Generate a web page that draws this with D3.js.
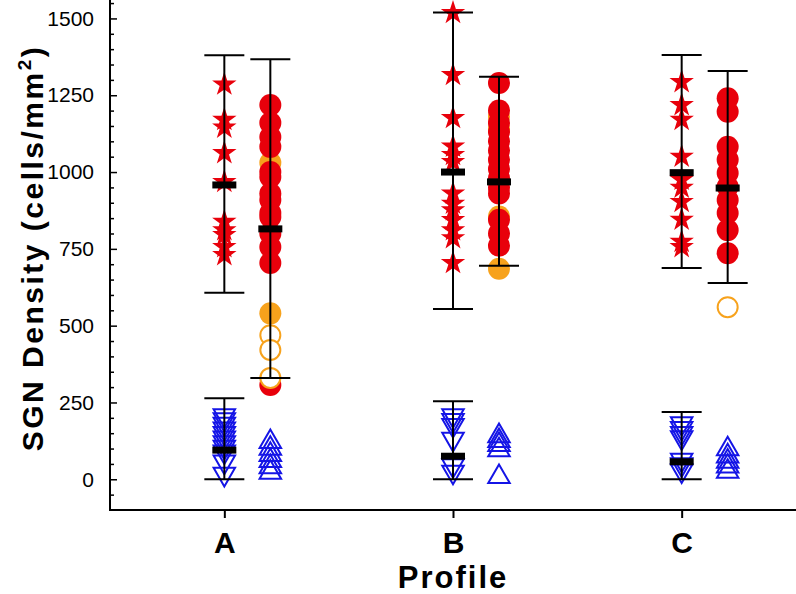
<!DOCTYPE html>
<html>
<head>
<meta charset="utf-8">
<script src="https://cdn.jsdelivr.net/npm/d3@7"></script>
<style>
  html, body { margin: 0; padding: 0; background: #fff; }
  svg { display: block; font-family: "Liberation Sans", Arial, sans-serif; }
</style>
</head>
<body>
<svg id="chart" width="796" height="594"></svg>
<script>
// ---------------- DATA ----------------
const profiles = ["A", "B", "C"];
const yTicks = [0, 250, 500, 750, 1000, 1250, 1500];

// red stars
const starValues = [
  [1285, 1170, 1145, 1062, 968, 838, 811, 795, 756, 730],
  [1518, 1316, 1176, 1083, 1056, 1033, 930, 897, 876, 844, 811, 785, 704],
  [1293, 1218, 1170, 1050, 975, 949, 903, 845, 773, 756]
];
const starMean = [958, 1000, 998];
const starLow  = [607, 554, 688];
const starHigh = [1380, 1519, 1381];

// orange filled circles (drawn first)
const circleOrange = [
  [1030, 540],
  [1180, 1140, 855, 685],
  []
];
// red filled circles
const circleRed = [
  [1218, 1160, 1114, 1082, 1000, 984, 930, 909, 867, 854, 800, 756, 704, 307],
  [1290, 1200, 1160, 1130, 1100, 1070, 1040, 1010, 980, 950, 930, 845, 800, 760],
  [1240, 1196, 1082, 1040, 997, 952, 909, 867, 811, 736]
];
// orange hollow circles
const circleHollow = [
  [469, 421, 330],
  [],
  [560]
];
const circleMean = [815, 968, 948];
const circleLow  = [330, 695, 639];
const circleHigh = [1367, 1310, 1329];

// blue down-triangles
const downValues = [
  [208, 195, 180, 165, 150, 135, 120, 105, 90, 57, 17],
  [208, 192, 176, 131, 45, 24],
  [182, 166, 150, 136, 63, 48, 28]
];
const downMean = [95, 75, 57];
const downLow  = [0, 0, 0];
const downHigh = [264, 254, 219];

// blue up-triangles
const upValues = [
  [122, 100, 80, 60, 40, 22],
  [141, 125, 112, 95, 8],
  [98, 75, 58, 42, 25]
];

// ---------------- CHART ----------------
const W = 796, H = 594;
const left = 110, bottom = 510;
const svg = d3.select("#chart");

const x = d3.scalePoint().domain(profiles).range([left, W]).padding(0.5);
const y = d3.scaleLinear().domain([-100, 1560]).range([bottom, 0]);
const offset = 46;

const RED = "#e8000b", ORANGE = "#f7a21c", BLUE = "#1414e6";

const starSym = d3.symbol().type(d3.symbolStar).size(185);
const triSym = d3.symbol().type(d3.symbolTriangle).size(200);

const marks = svg.append("g");

profiles.forEach((p, i) => {
  const xs = x(p), xc = x(p) + offset;
  marks.append("g").selectAll("path").data(starValues[i]).join("path")
    .attr("d", starSym)
    .attr("transform", d => `translate(${xs},${y(d)})`)
    .attr("fill", RED);
  marks.append("g").selectAll("circle").data(circleOrange[i]).join("circle")
    .attr("cx", xc).attr("cy", d => y(d)).attr("r", 11).attr("fill", ORANGE);
  marks.append("g").selectAll("circle").data(circleRed[i]).join("circle")
    .attr("cx", xc).attr("cy", d => y(d)).attr("r", 11).attr("fill", RED);
  marks.append("g").selectAll("circle").data(circleHollow[i]).join("circle")
    .attr("cx", xc).attr("cy", d => y(d)).attr("r", 10)
    .attr("fill", "#fff").attr("stroke", ORANGE).attr("stroke-width", 2);
  marks.append("g").selectAll("path").data(downValues[i]).join("path")
    .attr("d", triSym)
    .attr("transform", d => `translate(${xs},${y(d)}) rotate(180)`)
    .attr("fill", "none").attr("stroke", BLUE).attr("stroke-width", 2);
  marks.append("g").selectAll("path").data(upValues[i]).join("path")
    .attr("d", triSym)
    .attr("transform", d => `translate(${xc},${y(d)})`)
    .attr("fill", "none").attr("stroke", BLUE).attr("stroke-width", 2);
});

// error bars + means
const errs = [];
profiles.forEach((p, i) => {
  errs.push({ x: x(p), lo: starLow[i], hi: starHigh[i], m: starMean[i] });
  errs.push({ x: x(p) + offset, lo: circleLow[i], hi: circleHigh[i], m: circleMean[i] });
  errs.push({ x: x(p), lo: downLow[i], hi: downHigh[i], m: downMean[i] });
});
const eg = svg.append("g");
errs.forEach(e => {
  eg.append("line").attr("x1", e.x).attr("x2", e.x).attr("y1", y(e.lo)).attr("y2", y(e.hi))
    .attr("stroke", "#000").attr("stroke-width", 2);
  [e.lo, e.hi].forEach(v => {
    eg.append("line").attr("x1", e.x - 20).attr("x2", e.x + 20).attr("y1", y(v)).attr("y2", y(v))
      .attr("stroke", "#000").attr("stroke-width", 2);
  });
  eg.append("rect").attr("x", e.x - 12).attr("y", y(e.m) - 3.5).attr("width", 24).attr("height", 7)
    .attr("fill", "#000");
});

// axes
const yAxis = svg.append("g").attr("transform", `translate(${left},0)`)
  .call(d3.axisLeft(y).tickValues(yTicks).tickFormat(d3.format("d"))
    .tickSizeInner(-7).tickSizeOuter(0).tickPadding(16));
yAxis.select(".domain").remove();
yAxis.selectAll("text").attr("font-size", 21).attr("fill", "#000")
  .attr("font-family", "Liberation Sans, Arial, sans-serif");
yAxis.selectAll("line").attr("stroke-width", 1.5);

const minor = d3.range(-50, 1560, 50).filter(v => v % 250 !== 0);
const yMinor = svg.append("g").attr("transform", `translate(${left},0)`)
  .call(d3.axisLeft(y).tickValues(minor).tickSizeInner(-4).tickSizeOuter(0).tickFormat(""));
yMinor.select(".domain").remove();
yMinor.selectAll("line").attr("stroke-width", 1.5);

svg.append("line").attr("x1", left).attr("x2", left).attr("y1", 0).attr("y2", bottom)
  .attr("stroke", "#000").attr("stroke-width", 2);

const xAxis = svg.append("g").attr("transform", `translate(0,${bottom})`)
  .call(d3.axisBottom(x).tickSizeInner(8).tickSizeOuter(0).tickPadding(14));
xAxis.select(".domain").remove();
xAxis.selectAll("line").attr("stroke-width", 2);
xAxis.selectAll("text").attr("font-size", 30).attr("font-weight", "bold").attr("fill", "#000")
  .attr("font-family", "Liberation Sans, Arial, sans-serif");
svg.append("line").attr("x1", left - 1).attr("x2", W).attr("y1", bottom).attr("y2", bottom)
  .attr("stroke", "#000").attr("stroke-width", 2);

// titles
svg.append("text").attr("x", (left + W) / 2).attr("y", 588)
  .attr("text-anchor", "middle").attr("font-size", 31).attr("font-weight", "bold")
  .attr("letter-spacing", 2).text("Profile");

const yt = svg.append("text")
  .attr("transform", `translate(43,248) rotate(-90)`)
  .attr("text-anchor", "middle").attr("font-size", 30).attr("font-weight", "bold")
  .attr("letter-spacing", 2.5);
yt.append("tspan").text("SGN Density (cells/mm");
yt.append("tspan").attr("font-size", 19).attr("dy", -12).text("2");
yt.append("tspan").attr("dy", 12).text(")");
</script>
</body>
</html>
